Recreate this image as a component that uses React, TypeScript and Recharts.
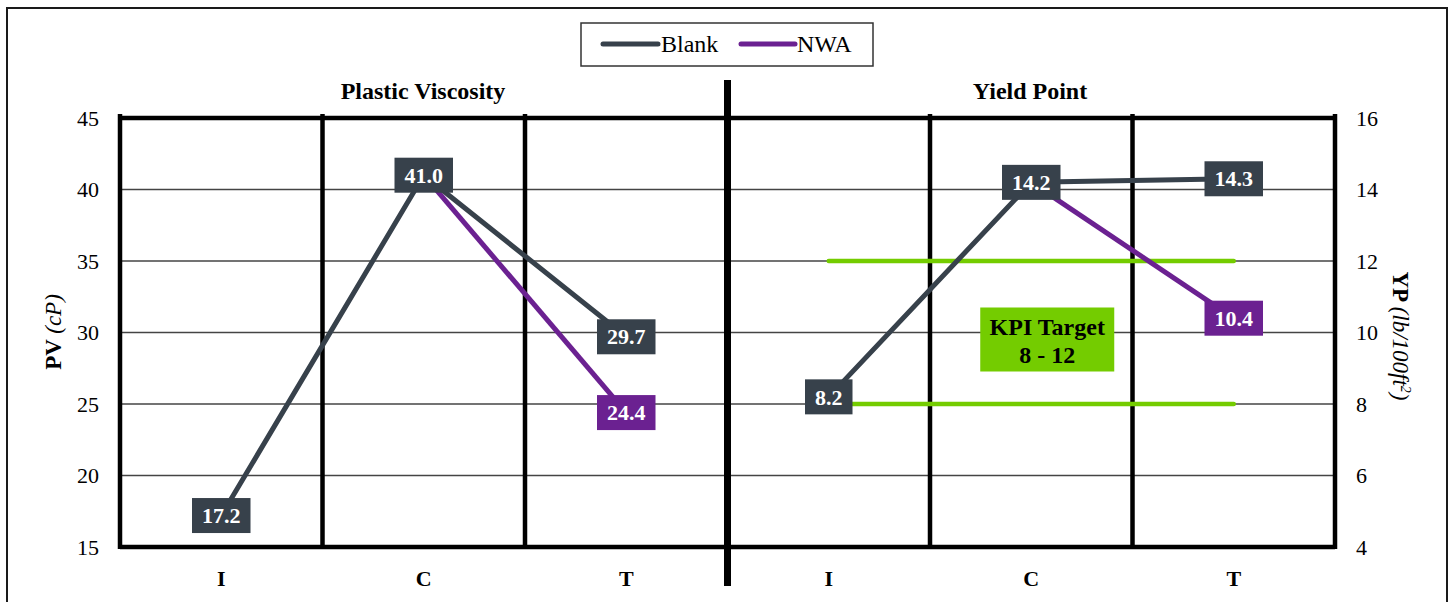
import React from 'react';
import {
  ComposedChart,
  Line,
  XAxis,
  YAxis,
  CartesianGrid,
  ReferenceLine,
  ReferenceDot,
  LabelList,
} from 'recharts';

const FONT = 'Liberation Serif, Times New Roman, serif';
const DARK = '#37414B';
const PURPLE = '#6B2191';
const GREEN = '#74CC00';

// sample points per panel
const categories = ['I', 'C', 'T'];
const blankPV = [17.2, 41.0, 29.7];
const nwaPV = [null, 41.0, 24.4];
const blankYP = [8.2, 14.2, 14.3];
const nwaYP = [null, 14.2, 10.4];
const kpiTarget = [8, 12];

const pvTicks = [15, 20, 25, 30, 35, 40, 45];
const ypTicks = [4, 6, 8, 10, 12, 14, 16];

type Row = {
  key: string;
  label: string;
  blankPV?: number | null;
  nwaPV?: number | null;
  blankYP?: number | null;
  nwaYP?: number | null;
  kpiLow?: number;
  kpiHigh?: number;
};

const rows: Row[] = [
  ...categories.map((c, i) => ({
    key: `pv-${c}`,
    label: c,
    blankPV: blankPV[i],
    nwaPV: nwaPV[i],
  })),
  ...categories.map((c, i) => ({
    key: `yp-${c}`,
    label: c,
    blankYP: blankYP[i],
    nwaYP: nwaYP[i],
    kpiLow: kpiTarget[0],
    kpiHigh: kpiTarget[1],
  })),
];

// boxed value label centred on the point
const valueBox = (fill: string, hideIf?: (index: number) => boolean) => (props: any) => {
  const { x, y, value, index } = props;
  if (value == null || x == null || y == null) return null;
  if (hideIf && hideIf(index)) return null;
  const text = Number(value).toFixed(1);
  const adv = (text.length - 1) * 11 + 5.5;
  const w = adv + 20;
  const h = 35;
  return (
    <g>
      <rect x={x - w / 2} y={y - h / 2} width={w} height={h} fill={fill} />
      <text
        x={x}
        y={y}
        dy="0.35em"
        textAnchor="middle"
        fill="#fff"
        fontWeight="bold"
        fontSize={22}
        fontFamily={FONT}
      >
        {text}
      </text>
    </g>
  );
};

const edgeLine = (strokeWidth: number, above: number, below: number) => (p: any) => (
  <line
    x1={p.x1}
    y1={Math.min(p.y1, p.y2) - above}
    x2={p.x2}
    y2={Math.max(p.y1, p.y2) + below}
    stroke="#000"
    strokeWidth={strokeWidth}
  />
);

const KpiBox = (p: any) => {
  const cx = p.cx + 16;
  const cy = p.cy + 7;
  return (
    <g>
      <rect x={cx - 67} y={cy - 32} width={134} height={64} fill={GREEN} />
      <text x={cx} y={cy - 5} textAnchor="middle" fontWeight="bold" fontSize={24} fontFamily={FONT} fill="#000">
        KPI Target
      </text>
      <text x={cx} y={cy + 23} textAnchor="middle" fontWeight="bold" fontSize={24} fontFamily={FONT} fill="#000">
        {`${kpiTarget[0]} - ${kpiTarget[1]}`}
      </text>
    </g>
  );
};

export default function App() {
  const tickStyle = { fill: '#000', fontSize: 22, fontFamily: FONT };
  return (
    <div style={{ position: 'absolute', left: 0, top: 0, width: 1452, height: 602, background: '#fff', overflow: 'hidden', fontFamily: FONT }}>
      <div
        style={{
          position: 'absolute',
          left: 6,
          top: 7,
          width: 1442,
          height: 640,
          border: '2px solid #1a1a1a',
          boxSizing: 'border-box',
        }}
      />
      <div style={{ position: 'absolute', left: 0, top: 0 }}>
        <ComposedChart
          width={1452}
          height={602}
          data={rows}
          margin={{ top: 118, right: 57, bottom: 0, left: 60 }}
        >
          <CartesianGrid yAxisId="pv" xAxisId="cat" vertical={false} stroke="#444" strokeWidth={1.3} />
          <XAxis
            xAxisId="cat"
            dataKey="key"
            scale="band"
            interval={0}
            height={55}
            tickFormatter={(k: string) => k.split('-')[1]}
            tick={{ ...tickStyle, fontWeight: 'bold' }}
            tickLine={false}
            tickSize={6}
            tickMargin={17}
            axisLine={{ stroke: '#000', strokeWidth: 4.5 }}
          />
          <YAxis
            yAxisId="pv"
            width={60}
            domain={[15, 45]}
            ticks={pvTicks}
            tick={tickStyle}
            tickLine={false}
            tickSize={6}
            tickMargin={15}
            axisLine={false}
          />
          <YAxis
            yAxisId="yp"
            orientation="right"
            width={60}
            domain={[4, 16]}
            ticks={ypTicks}
            tick={{ ...tickStyle, textAnchor: 'start' }}
            tickLine={false}
            tickSize={6}
            tickMargin={15}
            axisLine={false}
          />

          <ReferenceLine yAxisId="pv" xAxisId="cat" y={45} stroke="#000" strokeWidth={4.5} />
          {/* left edge of every slot; the panel split is heavier and runs past the plot */}
          {rows.map((r, i) => (
            <ReferenceLine
              key={r.key}
              xAxisId="cat"
              yAxisId="pv"
              x={r.key}
              position="start"
              shape={i === categories.length ? edgeLine(7, 38, 39) : edgeLine(4.5, 4, 2)}
            />
          ))}
          <ReferenceLine
            xAxisId="cat"
            yAxisId="pv"
            x={rows[rows.length - 1].key}
            position="end"
            shape={edgeLine(4.5, 4, 2)}
          />

          <Line
            xAxisId="cat"
            yAxisId="yp"
            dataKey="kpiHigh"
            stroke={GREEN}
            strokeWidth={4.5}
            strokeLinecap="round"
            dot={false}
            activeDot={false}
            isAnimationActive={false}
          />
          <Line
            xAxisId="cat"
            yAxisId="yp"
            dataKey="kpiLow"
            stroke={GREEN}
            strokeWidth={4.5}
            strokeLinecap="round"
            dot={false}
            activeDot={false}
            isAnimationActive={false}
          />

          <Line
            xAxisId="cat"
            yAxisId="pv"
            dataKey="nwaPV"
            stroke={PURPLE}
            strokeWidth={5}
            dot={false}
            activeDot={false}
            isAnimationActive={false}
          >
            <LabelList
              dataKey="nwaPV"
              content={valueBox(PURPLE, (i) => rows[i]?.nwaPV === rows[i]?.blankPV)}
            />
          </Line>
          <Line
            xAxisId="cat"
            yAxisId="yp"
            dataKey="nwaYP"
            stroke={PURPLE}
            strokeWidth={5}
            dot={false}
            activeDot={false}
            isAnimationActive={false}
          >
            <LabelList
              dataKey="nwaYP"
              content={valueBox(PURPLE, (i) => rows[i]?.nwaYP === rows[i]?.blankYP)}
            />
          </Line>
          <Line
            xAxisId="cat"
            yAxisId="pv"
            dataKey="blankPV"
            stroke={DARK}
            strokeWidth={5}
            dot={false}
            activeDot={false}
            isAnimationActive={false}
          >
            <LabelList dataKey="blankPV" content={valueBox(DARK)} />
          </Line>
          <Line
            xAxisId="cat"
            yAxisId="yp"
            dataKey="blankYP"
            stroke={DARK}
            strokeWidth={5}
            dot={false}
            activeDot={false}
            isAnimationActive={false}
          >
            <LabelList dataKey="blankYP" content={valueBox(DARK)} />
          </Line>

          <ReferenceDot
            xAxisId="cat"
            yAxisId="yp"
            x="yp-C"
            y={(kpiTarget[0] + kpiTarget[1]) / 2}
            shape={KpiBox}
          />
        </ComposedChart>
      </div>

      {/* titles, axis names and legend */}
      <svg
        width={1452}
        height={602}
        style={{ position: 'absolute', left: 0, top: 0, pointerEvents: 'none', fontFamily: FONT }}
      >
        <text x={423} y={99} textAnchor="middle" fontWeight="bold" fontSize={24}>
          Plastic Viscosity
        </text>
        <text x={1030} y={99} textAnchor="middle" fontWeight="bold" fontSize={24}>
          Yield Point
        </text>

        <text transform="translate(61,332) rotate(-90)" textAnchor="middle" fontSize={23}>
          <tspan fontWeight="bold">PV </tspan>
          <tspan fontStyle="italic">(cP)</tspan>
        </text>
        <text transform="translate(1393,336) rotate(90)" textAnchor="middle" fontSize={23}>
          <tspan fontWeight="bold">YP </tspan>
          <tspan fontStyle="italic">(lb/100ft</tspan>
          <tspan fontStyle="italic" fontSize={14} dy={-8}>2</tspan>
          <tspan fontStyle="italic" dy={8}>)</tspan>
        </text>

        <rect x={581} y={23} width={292} height={43} fill="#fff" stroke="#333" strokeWidth={1.5} />
        <line x1={603} y1={44} x2={658} y2={44} stroke={DARK} strokeWidth={5} strokeLinecap="round" />
        <text x={661} y={52} fontSize={24}>Blank</text>
        <line x1={741} y1={44} x2={795} y2={44} stroke={PURPLE} strokeWidth={5} strokeLinecap="round" />
        <text x={797} y={52} fontSize={24}>NWA</text>
      </svg>
    </div>
  );
}
